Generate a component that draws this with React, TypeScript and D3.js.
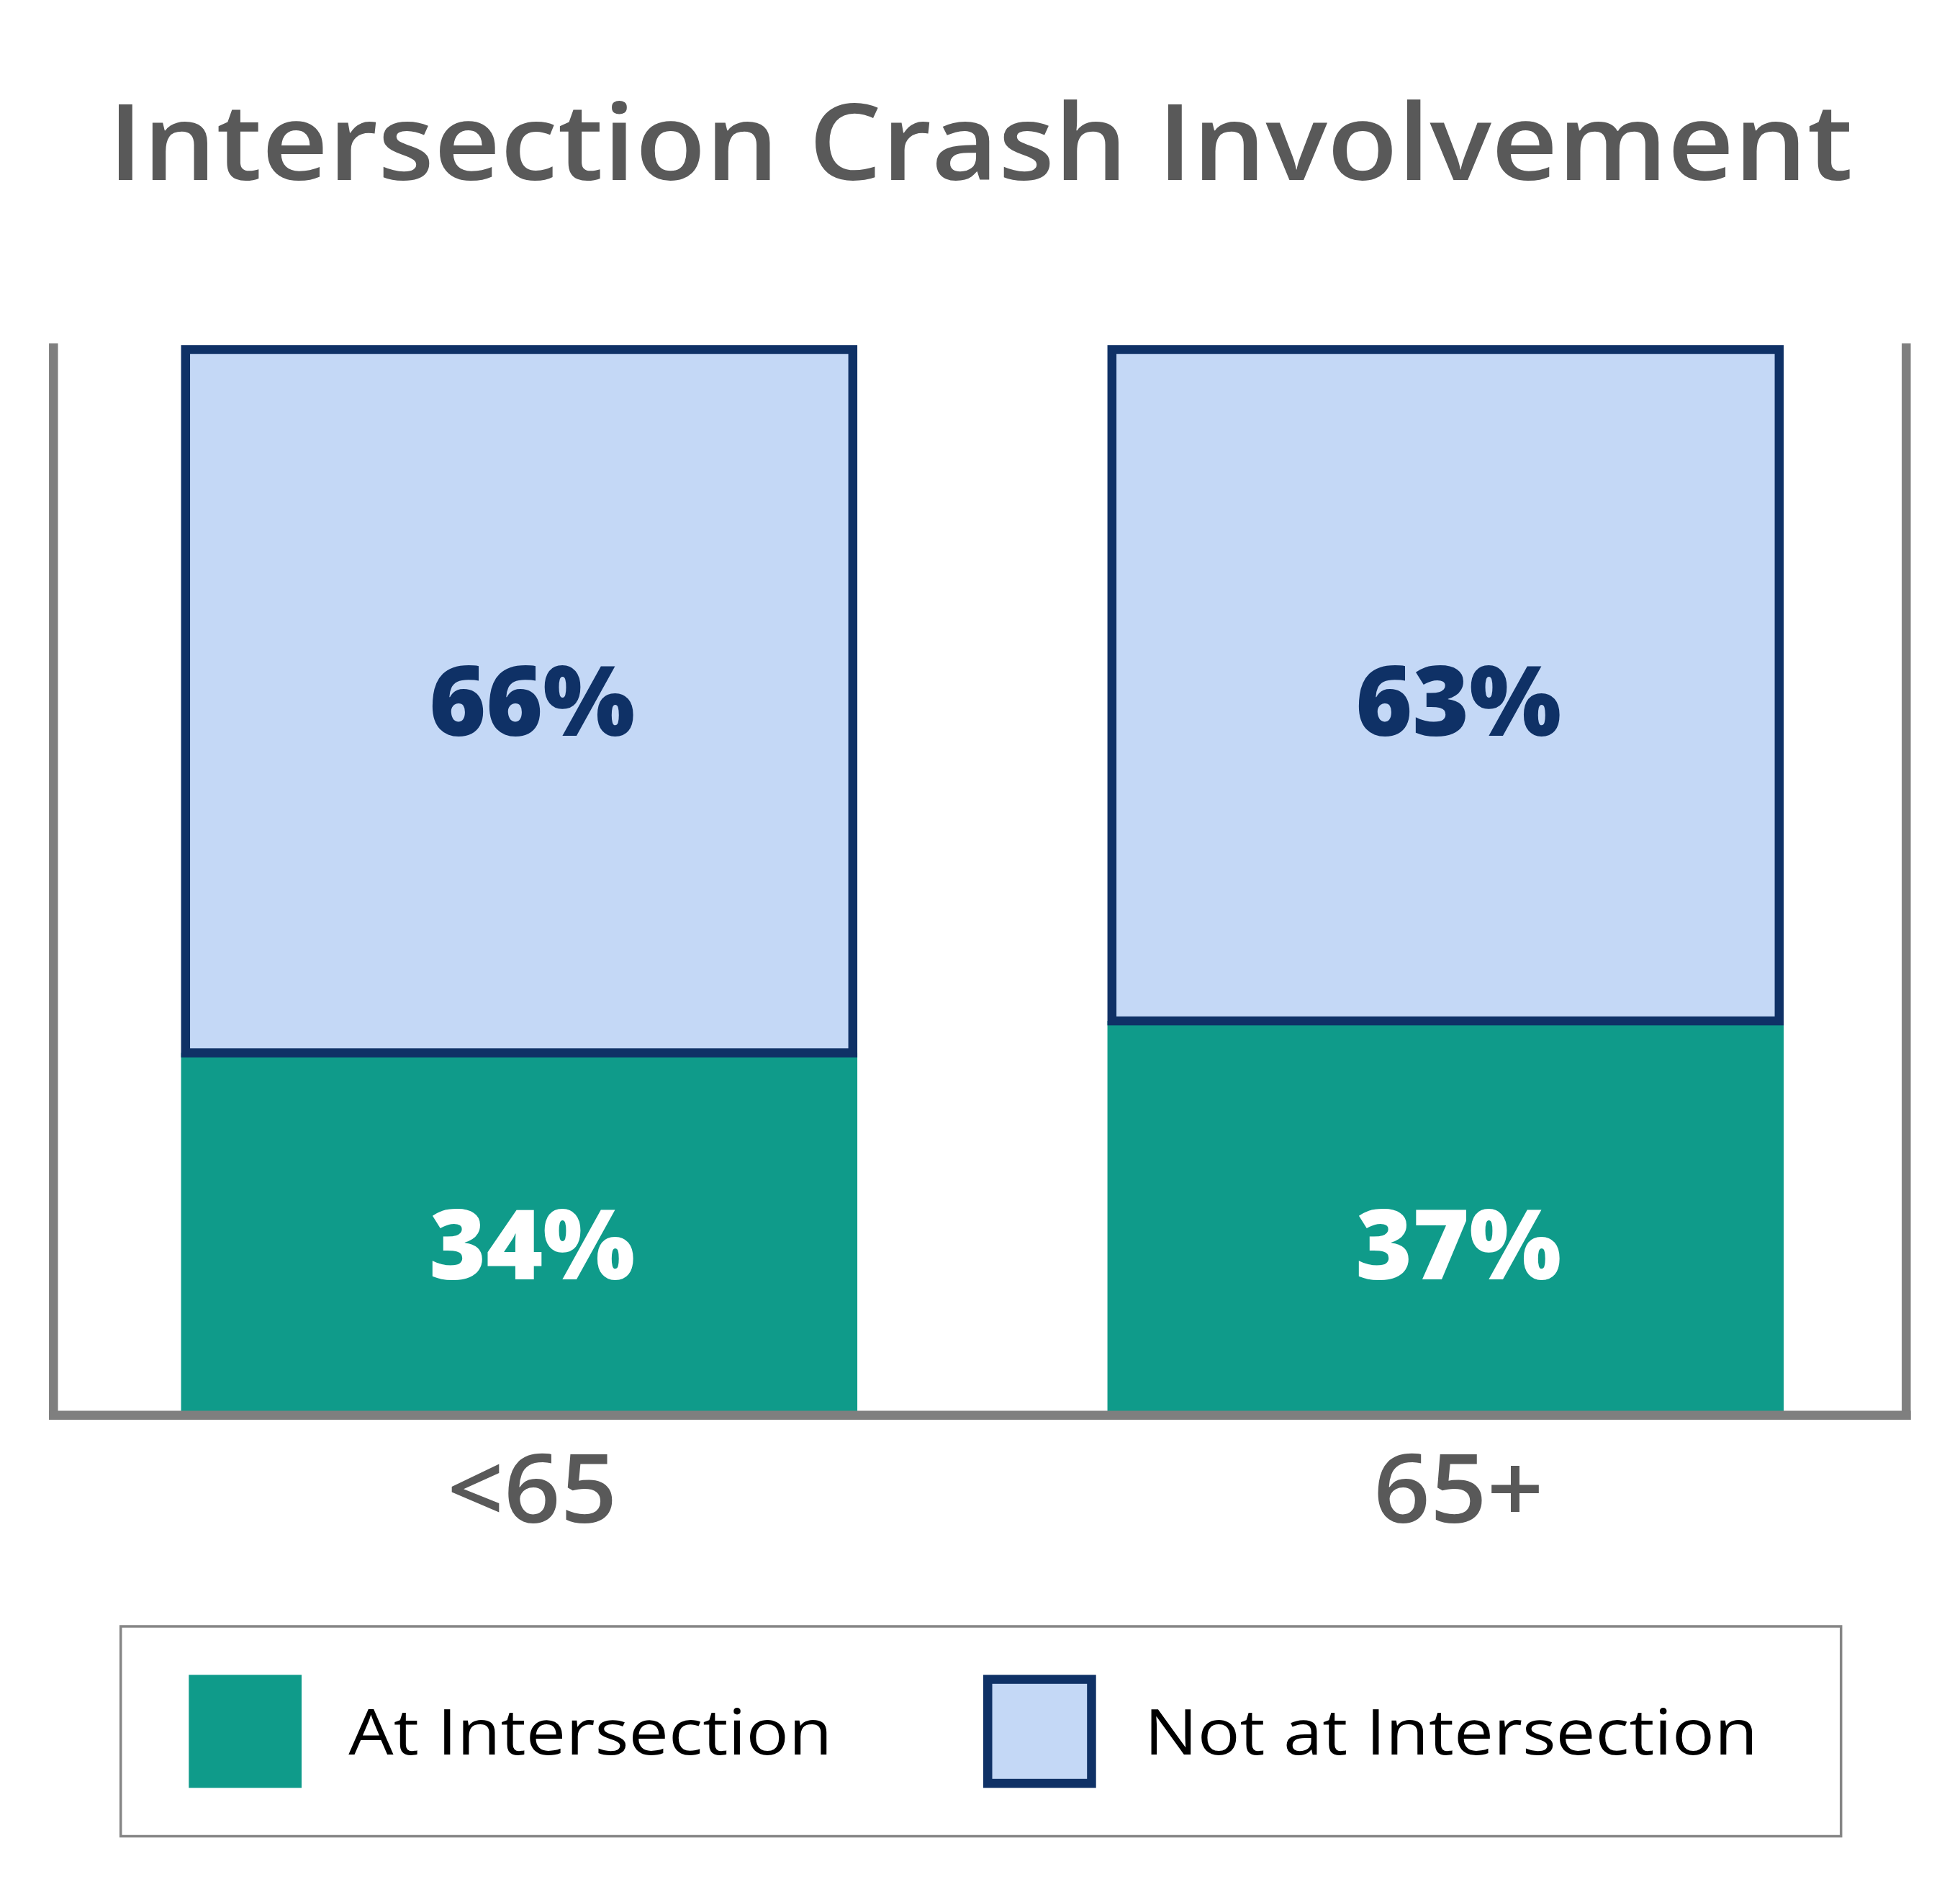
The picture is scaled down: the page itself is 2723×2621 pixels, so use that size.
import React from 'react';
import * as d3 from 'd3';

const title = 'Intersection Crash Involvement';
const categories = ['<65', '65+'];
const atIntersection = [34, 37];
const notAtIntersection = [66, 63];
const seriesKeys = ['at', 'not'];
const seriesNames = ['At Intersection', 'Not at Intersection'];
const seriesLabelAt = [16, 67];
const yDomain = [0, 100];

const W = 2723;
const H = 2621;
const COLORS = {
  at: '#0F9B8A',
  not: '#C4D8F6',
  navy: '#0F3166',
  axis: '#7F7F7F',
  grayText: '#595959',
  legendBorder: '#858585',
};
const FONT = "'Open Sans', 'Noto Sans', sans-serif";

export default function App() {
  const rows = categories.map((c, i) => ({ cat: c, at: atIntersection[i], not: notAtIntersection[i] }));
  const stacked = d3.stack<any>().keys(seriesKeys)(rows);

  const x = d3.scaleBand<string>().domain(categories).range([77.8, 2651.8]).paddingInner(0.27).paddingOuter(0.135);
  const y = d3.scaleLinear().domain(yDomain).range([1965.7, 485.5]);

  const sw = 12.5;
  const plotLeft = 74.3;
  const plotRight = 2648.3;
  const plotTop = y(100) - 8.5;
  const plotBottom = y(0);

  const pctSize = 134;
  const catSize = 133;
  const legSize = 88;
  const labelDx = 18;

  return (
    <svg
      width={W}
      height={H}
      viewBox={`0 0 ${W} ${H}`}
      style={{ position: 'absolute', left: 0, top: 0, display: 'block', background: '#fff' }}
    >
      <rect x={0} y={0} width={W} height={H} fill="#fff" />
      <text
        x={150}
        y={250}
        fontFamily={FONT}
        fontWeight={600}
        fontSize={147}
        fill={COLORS.grayText}
        textLength={2424}
        lengthAdjust="spacingAndGlyphs"
      >
        {title}
      </text>

      {/* green bars (first series) */}
      {stacked[0].map((d, i) => (
        <rect
          key={'at' + i}
          x={x(categories[i])!}
          y={y(d[1])}
          width={x.bandwidth()}
          height={y(d[0]) - y(d[1])}
          fill={COLORS.at}
        />
      ))}
      {/* light blue bars (second series) with navy outline */}
      {stacked[1].map((d, i) => (
        <rect
          key={'not' + i}
          x={x(categories[i])! + sw / 2}
          y={y(d[1])}
          width={x.bandwidth() - sw}
          height={y(d[0]) - y(d[1])}
          fill={COLORS.not}
          stroke={COLORS.navy}
          strokeWidth={sw}
        />
      ))}

      {/* axes frame */}
      <line x1={plotLeft} x2={plotLeft} y1={plotTop} y2={plotBottom + sw / 2} stroke={COLORS.axis} strokeWidth={sw} />
      <line x1={plotRight} x2={plotRight} y1={plotTop} y2={plotBottom + sw / 2} stroke={COLORS.axis} strokeWidth={sw} />
      <line x1={plotLeft - sw / 2} x2={plotRight + sw / 2} y1={plotBottom} y2={plotBottom} stroke={COLORS.axis} strokeWidth={sw} />

      {/* value labels */}
      {stacked.map((s, si) =>
        s.map((d, i) => (
          <text
            key={'lab' + si + '-' + i}
            x={x(categories[i])! + x.bandwidth() / 2 + labelDx}
            y={y(seriesLabelAt[si]) + pctSize * 0.357}
            textAnchor="middle"
            fontFamily={FONT}
            fontWeight={800}
            fontSize={pctSize}
            fill={si === 0 ? '#FFFFFF' : COLORS.navy}
            textLength={286}
            lengthAdjust="spacingAndGlyphs"
          >
            {`${d[1] - d[0]}%`}
          </text>
        ))
      )}

      {/* category labels */}
      {categories.map((c) => (
        <text
          key={'cat' + c}
          x={x(c)! + x.bandwidth() / 2 + labelDx}
          y={2115}
          textAnchor="middle"
          fontFamily={FONT}
          fontWeight={600}
          fontSize={catSize}
          fill={COLORS.grayText}
          textLength={236}
          lengthAdjust="spacingAndGlyphs"
        >
          {c}
        </text>
      ))}

      {/* legend */}
      <rect x={167.7} y={2259} width={2390} height={291.5} fill="#fff" stroke={COLORS.legendBorder} strokeWidth={3.5} />
      <rect x={262.3} y={2326.3} width={156.7} height={157} fill={COLORS.at} />
      <text x={484.3} y={2437} fontFamily={FONT} fontWeight={400} fontSize={legSize} fill="#000" textLength={672} lengthAdjust="spacingAndGlyphs">
        {seriesNames[0]}
      </text>
      <rect
        x={1366 + sw / 2}
        y={2326.3 + sw / 2}
        width={156.7 - sw}
        height={157 - sw}
        fill={COLORS.not}
        stroke={COLORS.navy}
        strokeWidth={sw}
      />
      <text x={1590} y={2437} fontFamily={FONT} fontWeight={400} fontSize={legSize} fill="#000" textLength={852} lengthAdjust="spacingAndGlyphs">
        {seriesNames[1]}
      </text>
    </svg>
  );
}
